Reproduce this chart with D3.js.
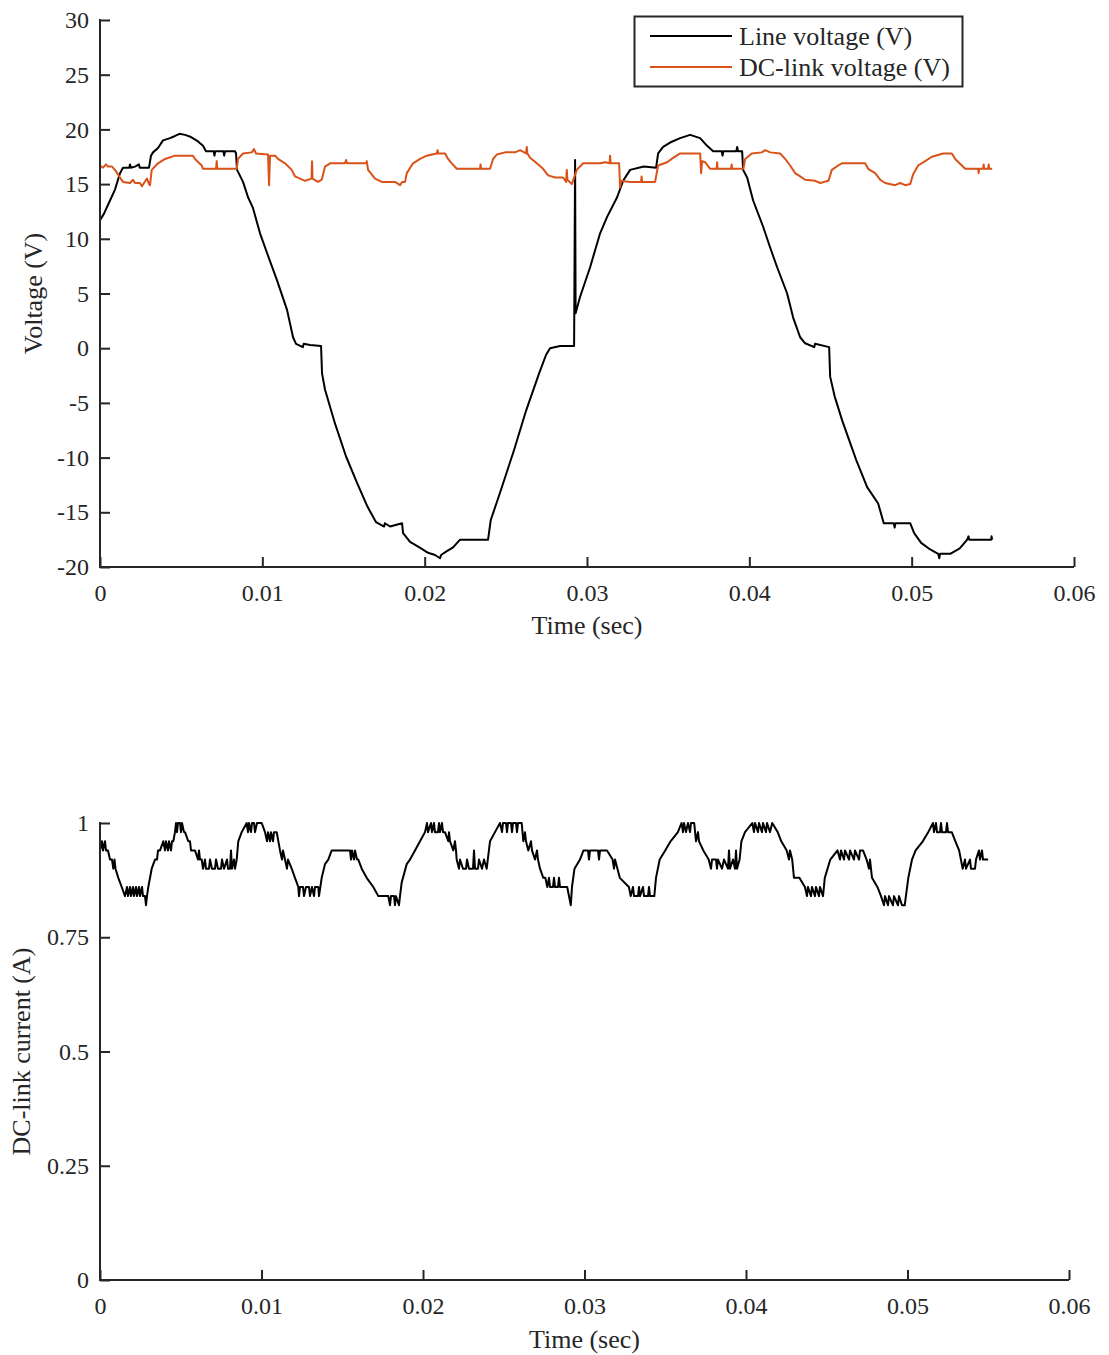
<!DOCTYPE html>
<html>
<head>
<meta charset="utf-8">
<script src="https://cdn.jsdelivr.net/npm/d3@7"></script>
<style>
  body { margin: 0; background: #fff; }
  text { font-family: "Liberation Serif", "Times New Roman", serif; fill: #262626; }
</style>
</head>
<body>
<div id="chart"></div>
<script>
// Data (time in ms)
var lineVoltage = [
  [0, 11.7], [0.246, 12.3], [0.616, 13.5], [0.924, 14.5], [1.232, 16.0], [1.417, 16.5], [1.8, 16.5], [1.85, 16.8],
  [1.9, 16.5], [2.157, 16.6], [2.4, 16.8], [2.45, 16.5], [3.019, 16.5], [3.142, 17.6], [3.266, 17.9], [3.574, 18.3],
  [3.882, 19.0], [4.313, 19.2], [4.621, 19.4], [4.9, 19.6], [5.237, 19.5], [5.607, 19.3], [6.038, 18.9], [6.346, 18.5],
  [6.531, 18.0], [7.0, 18.0], [7.05, 17.6], [7.1, 18.0], [7.6, 18.0], [7.65, 17.6], [7.7, 18.0], [8.318, 18.0],
  [8.380, 17.8], [8.441, 16.3], [8.811, 15.2], [9.119, 13.8], [9.427, 12.8], [9.858, 10.5], [10.290, 8.7], [10.906, 6.2],
  [11.522, 3.5], [11.891, 1.0], [12.076, 0.4], [12.5, 0.1], [12.55, 0.4], [12.939, 0.3], [13.617, 0.2], [13.678, -2.3],
  [13.863, -3.8], [14.479, -6.9], [15.157, -9.9], [15.835, -12.3], [16.482, -14.5], [17.006, -15.9], [17.5, -16.3],
  [17.55, -16.0], [17.868, -16.3], [18.607, -16.0], [18.669, -16.9], [19.100, -17.7], [19.778, -18.3], [20.210, -18.7],
  [20.641, -18.9], [20.949, -19.2], [21.011, -18.9], [21.319, -18.6], [21.750, -18.2], [22.181, -17.5], [23.906, -17.5],
  [24.073, -15.7], [24.621, -13.3], [25.508, -9.3], [26.248, -5.7], [27.049, -2.3], [27.480, -0.6], [27.726, 0.0],
  [28.343, 0.2], [29.205, 0.2], [29.267, 17.2], [29.298, 3.2], [29.575, 4.7], [30.191, 7.4], [30.807, 10.5],
  [31.238, 12.0], [31.855, 13.8], [32.224, 15.3], [32.656, 16.3], [33.5, 16.6], [34.258, 16.5], [34.381, 17.8],
  [34.689, 18.4], [35.120, 18.8], [35.736, 19.2], [36.353, 19.5], [36.969, 19.2], [37.400, 18.5], [37.770, 18.0],
  [38.3, 18.0], [38.35, 17.6], [38.4, 18.0], [39.2, 18.0], [39.25, 18.4], [39.3, 18.0], [39.556, 18.0], [39.618, 16.3],
  [39.864, 15.6], [40.234, 13.5], [40.850, 11.1], [41.282, 9.2], [41.713, 7.4], [42.329, 5.0], [42.699, 2.8],
  [43.130, 1.0], [43.438, 0.45], [44.0, 0.1], [44.05, 0.4], [44.917, 0.1], [44.978, -2.6], [45.256, -4.4],
  [45.718, -6.6], [46.149, -8.4], [46.580, -10.2], [47.258, -12.7], [47.936, -14.2], [48.281, -16.0], [48.9, -16.0],
  [48.95, -16.4], [49.0, -16.0], [49.908, -16.0], [50.154, -16.9], [50.585, -17.8], [51.140, -18.4], [51.633, -18.8],
  [51.7, -19.2], [51.75, -18.8], [52.372, -18.8], [52.964, -18.3], [53.420, -17.5], [53.5, -17.2], [53.55, -17.5],
  [54.9, -17.5], [54.92, -17.2], [54.960, -17.5]
];

var dcVoltage = [
  [0, 16.7], [0.185, 16.5], [0.370, 16.8], [0.493, 16.6], [0.739, 16.6], [0.924, 16.3], [1.232, 15.6], [1.417, 15.2],
  [1.848, 15.1], [2.033, 15.4], [2.157, 15.1], [2.465, 15.1], [2.588, 14.8], [2.711, 15.1], [2.896, 15.5], [3.019, 15.0],
  [3.081, 14.9], [3.185, 16.3], [3.574, 16.9], [4.005, 17.3], [4.621, 17.6], [5.730, 17.6], [5.853, 17.3], [6.266, 16.7],
  [6.346, 16.4], [7.147, 16.4], [7.190, 17.1], [7.227, 16.4], [8.423, 16.4], [8.503, 17.3], [8.811, 17.8], [9.347, 17.9],
  [9.489, 18.2], [9.612, 17.8], [10.351, 17.7], [10.413, 14.9], [10.475, 17.6], [10.783, 17.6], [10.967, 17.3],
  [11.399, 16.9], [11.811, 16.3], [12.015, 15.7], [12.323, 15.5], [12.631, 15.3], [13.031, 15.5], [13.062, 17.1],
  [13.093, 15.5], [13.432, 15.2], [13.660, 15.4], [13.863, 16.6], [14.171, 16.9], [15.095, 16.9], [15.157, 17.2],
  [15.219, 16.9], [16.124, 16.9], [16.420, 16.9], [16.433, 17.1], [16.513, 16.3], [16.944, 15.5], [17.357, 15.2],
  [18.176, 15.2], [18.484, 14.9], [18.607, 15.2], [18.792, 15.2], [18.897, 16.0], [19.285, 16.9], [19.717, 17.3],
  [20.129, 17.6], [20.746, 17.8], [20.795, 18.1], [20.826, 17.8], [21.257, 17.8], [21.442, 17.3], [21.670, 16.9],
  [21.978, 16.4], [23.413, 16.4], [23.444, 16.8], [23.475, 16.4], [24.030, 16.4], [24.214, 17.3], [24.442, 17.7],
  [24.954, 17.9], [25.570, 17.9], [25.878, 18.1], [26.248, 17.8], [26.291, 18.4], [26.328, 17.8], [26.494, 17.4],
  [26.907, 16.9], [27.295, 16.4], [27.603, 15.8], [28.035, 15.6], [28.527, 15.6], [28.712, 15.2], [28.755, 16.3],
  [28.792, 15.4], [29.063, 15.0], [29.371, 16.3], [29.760, 16.9], [30.807, 16.9], [31.115, 17.0], [31.392, 16.9],
  [31.423, 17.6], [31.454, 16.9], [31.978, 16.9], [32.039, 14.7], [32.101, 15.3], [32.656, 15.2], [33.333, 15.2],
  [33.364, 15.7], [33.395, 15.2], [34.196, 15.2], [34.381, 16.7], [34.935, 17.0], [35.305, 17.4], [35.736, 17.8],
  [36.353, 17.8], [36.969, 17.8], [37.030, 16.0], [37.092, 17.1], [37.277, 17.0], [37.585, 16.4], [37.985, 16.4],
  [38.016, 17.0], [38.047, 16.4], [38.878, 16.4], [38.909, 16.8], [38.940, 16.4], [39.636, 16.4], [39.741, 17.3],
  [40.154, 17.8], [40.770, 17.9], [40.973, 18.1], [41.282, 17.9], [41.898, 17.8], [42.206, 17.3], [42.514, 16.7],
  [42.822, 16.0], [43.130, 15.7], [43.438, 15.4], [44.054, 15.3], [44.362, 15.1], [44.874, 15.3], [45.083, 16.3],
  [45.471, 16.7], [45.699, 16.9], [47.135, 16.9], [47.320, 16.4], [47.751, 16.0], [48.059, 15.4], [48.367, 15.1],
  [48.983, 14.9], [49.291, 15.1], [49.599, 14.9], [49.908, 15.0], [50.092, 15.9], [50.400, 16.7], [50.832, 17.1],
  [51.245, 17.5], [51.941, 17.8], [52.477, 17.8], [52.680, 17.3], [53.092, 16.7], [53.296, 16.4], [54.097, 16.4],
  [54.128, 16.0], [54.159, 16.4], [54.405, 16.4], [54.436, 16.8], [54.467, 16.4], [54.713, 16.4], [54.744, 16.8],
  [54.775, 16.4], [54.960, 16.4]
];

var dcCurrent = [
  [0, 0.94], [0.124, 0.96], [0.186, 0.94], [0.310, 0.96], [0.372, 0.94], [0.495, 0.94], [0.619, 0.92], [0.743, 0.92],
  [0.824, 0.90], [0.898, 0.92], [0.960, 0.90], [1.133, 0.88], [1.344, 0.86], [1.548, 0.84], [1.672, 0.86], [1.734, 0.84],
  [1.858, 0.86], [1.920, 0.84], [2.043, 0.86], [2.105, 0.84], [2.229, 0.86], [2.291, 0.84], [2.415, 0.86], [2.477, 0.84],
  [2.601, 0.86], [2.663, 0.84], [2.786, 0.84], [2.848, 0.82], [2.910, 0.84], [2.991, 0.86], [3.201, 0.90], [3.406, 0.92],
  [3.530, 0.92], [3.591, 0.94], [3.715, 0.94], [3.920, 0.96], [4.025, 0.94], [4.087, 0.96], [4.211, 0.94], [4.272, 0.96],
  [4.396, 0.94], [4.458, 0.96], [4.539, 0.96], [4.644, 0.98], [4.706, 1.0], [4.768, 0.98], [4.830, 1.0], [4.954, 1.0],
  [5.015, 0.98], [5.077, 1.0], [5.201, 0.98], [5.263, 0.98], [5.467, 0.96], [5.573, 0.96], [5.635, 0.94], [5.882, 0.94],
  [6.068, 0.92], [6.130, 0.94], [6.192, 0.92], [6.297, 0.92], [6.378, 0.90], [6.502, 0.92], [6.563, 0.90], [6.749, 0.90],
  [6.811, 0.92], [6.935, 0.90], [7.121, 0.90], [7.183, 0.92], [7.307, 0.90], [7.492, 0.90], [7.554, 0.92], [7.678, 0.90],
  [7.864, 0.92], [7.926, 0.90], [8.050, 0.90], [8.111, 0.94], [8.173, 0.90], [8.297, 0.92], [8.359, 0.90], [8.464, 0.92],
  [8.563, 0.96], [8.774, 0.98], [9.083, 1.0], [9.164, 0.98], [9.226, 1.0], [9.350, 0.98], [9.412, 1.0], [9.536, 1.0],
  [9.598, 0.98], [9.721, 1.0], [9.845, 1.0], [10.012, 1.0], [10.217, 0.98], [10.341, 0.96], [10.402, 0.98],
  [10.526, 0.96], [10.588, 0.98], [10.712, 0.96], [10.774, 0.98], [10.941, 0.98], [11.146, 0.94], [11.269, 0.92],
  [11.331, 0.94], [11.455, 0.92], [11.579, 0.90], [11.641, 0.92], [11.870, 0.90], [12.074, 0.88], [12.279, 0.86],
  [12.322, 0.84], [12.384, 0.86], [12.570, 0.86], [12.632, 0.84], [12.755, 0.86], [12.941, 0.86], [13.003, 0.84],
  [13.127, 0.86], [13.251, 0.84], [13.313, 0.86], [13.517, 0.86], [13.560, 0.84], [13.727, 0.88], [13.932, 0.91],
  [14.136, 0.92], [14.347, 0.94], [15.480, 0.94], [15.542, 0.92], [15.604, 0.94], [15.728, 0.92], [15.790, 0.94],
  [15.913, 0.92], [15.994, 0.92], [16.204, 0.90], [16.514, 0.88], [16.923, 0.86], [17.232, 0.84], [17.851, 0.84],
  [17.957, 0.82], [18.019, 0.84], [18.204, 0.84], [18.266, 0.82], [18.328, 0.84], [18.514, 0.82], [18.576, 0.84],
  [18.681, 0.87], [18.991, 0.91], [19.195, 0.92], [19.505, 0.94], [19.814, 0.96], [20.124, 0.98], [20.248, 1.0],
  [20.310, 0.98], [20.495, 1.0], [20.557, 0.98], [20.681, 1.0], [20.743, 0.98], [20.929, 0.98], [20.991, 1.0],
  [21.053, 0.98], [21.176, 1.0], [21.238, 0.98], [21.362, 0.98], [21.567, 0.96], [21.610, 0.98], [21.672, 0.96],
  [21.876, 0.94], [21.981, 0.96], [22.043, 0.94], [22.086, 0.92], [22.229, 0.90], [22.291, 0.92], [22.477, 0.90],
  [22.663, 0.90], [22.724, 0.92], [22.848, 0.90], [23.096, 0.90], [23.158, 0.94], [23.220, 0.90], [23.406, 0.90],
  [23.467, 0.92], [23.653, 0.90], [23.777, 0.92], [23.944, 0.90], [24.149, 0.96], [24.458, 0.98], [24.768, 1.0],
  [24.892, 0.98], [24.954, 1.0], [25.139, 1.0], [25.201, 0.98], [25.263, 1.0], [25.449, 1.0], [25.511, 0.98],
  [25.573, 1.0], [25.759, 1.0], [25.820, 0.98], [25.882, 1.0], [26.111, 1.0], [26.211, 0.96], [26.316, 0.98],
  [26.378, 0.96], [26.520, 0.94], [26.687, 0.96], [26.749, 0.94], [26.935, 0.92], [27.059, 0.94], [27.121, 0.92],
  [27.245, 0.90], [27.449, 0.88], [27.579, 0.88], [27.697, 0.86], [27.802, 0.88], [27.864, 0.86], [28.050, 0.86],
  [28.111, 0.88], [28.173, 0.86], [28.359, 0.86], [28.421, 0.88], [28.483, 0.86], [28.669, 0.86], [28.929, 0.86],
  [29.152, 0.82], [29.226, 0.86], [29.381, 0.90], [29.721, 0.92], [29.938, 0.94], [30.217, 0.94], [30.279, 0.92],
  [30.341, 0.94], [30.836, 0.94], [30.898, 0.92], [30.960, 0.94], [31.393, 0.94], [31.740, 0.92], [31.827, 0.90],
  [31.889, 0.92], [32.186, 0.88], [32.749, 0.86], [32.861, 0.84], [33.003, 0.86], [33.065, 0.84], [33.313, 0.84],
  [33.375, 0.86], [33.437, 0.84], [33.622, 0.86], [33.684, 0.84], [33.932, 0.84], [33.994, 0.86], [34.056, 0.84],
  [34.322, 0.84], [34.427, 0.88], [34.656, 0.92], [34.997, 0.94], [35.331, 0.96], [35.783, 0.98], [36.006, 1.0],
  [36.099, 0.98], [36.161, 1.0], [36.285, 0.98], [36.409, 1.0], [36.533, 0.98], [36.594, 1.0], [36.793, 1.0],
  [36.904, 0.96], [37.028, 0.98], [37.090, 0.96], [37.356, 0.94], [37.690, 0.92], [37.833, 0.90], [37.895, 0.92],
  [38.142, 0.92], [38.204, 0.90], [38.266, 0.92], [38.514, 0.90], [38.638, 0.92], [38.885, 0.90], [38.947, 0.94],
  [39.009, 0.90], [39.195, 0.92], [39.319, 0.90], [39.381, 0.94], [39.443, 0.90], [39.604, 0.92], [39.715, 0.96],
  [39.938, 0.98], [40.390, 1.0], [40.495, 0.98], [40.557, 1.0], [40.743, 0.98], [40.805, 1.0], [40.991, 0.98],
  [41.053, 1.0], [41.238, 0.98], [41.300, 1.0], [41.486, 0.98], [41.622, 1.0], [41.963, 0.98], [42.186, 0.96],
  [42.520, 0.94], [42.663, 0.92], [42.724, 0.94], [42.861, 0.92], [42.972, 0.88], [43.307, 0.88], [43.647, 0.86],
  [43.777, 0.84], [43.839, 0.86], [44.025, 0.84], [44.087, 0.86], [44.272, 0.84], [44.334, 0.86], [44.520, 0.84],
  [44.582, 0.86], [44.768, 0.84], [44.879, 0.88], [45.220, 0.92], [45.666, 0.94], [45.820, 0.92], [45.882, 0.94],
  [46.068, 0.92], [46.130, 0.94], [46.378, 0.92], [46.440, 0.94], [46.687, 0.92], [46.749, 0.94], [46.997, 0.92],
  [47.059, 0.94], [47.245, 0.94], [47.467, 0.92], [47.616, 0.90], [47.678, 0.92], [47.802, 0.88], [48.136, 0.86],
  [48.359, 0.84], [48.545, 0.82], [48.607, 0.84], [48.793, 0.82], [48.854, 0.84], [49.102, 0.82], [49.164, 0.84],
  [49.412, 0.82], [49.474, 0.84], [49.659, 0.82], [49.827, 0.82], [50.050, 0.88], [50.279, 0.92], [50.502, 0.94],
  [50.947, 0.96], [51.282, 0.98], [51.579, 1.0], [51.641, 0.98], [51.765, 1.0], [51.827, 0.98], [52.012, 0.98],
  [52.074, 1.0], [52.136, 0.98], [52.384, 0.98], [52.446, 1.0], [52.508, 0.98], [52.743, 0.98], [52.966, 0.96],
  [53.195, 0.94], [53.418, 0.90], [53.560, 0.92], [53.622, 0.90], [53.870, 0.92], [53.932, 0.90], [54.180, 0.90],
  [54.241, 0.92], [54.427, 0.94], [54.489, 0.92], [54.613, 0.94], [54.675, 0.92], [54.799, 0.92], [54.991, 0.92]
];

var timeTicks = [0, 0.01, 0.02, 0.03, 0.04, 0.05, 0.06];
var voltTicks = [-20, -15, -10, -5, 0, 5, 10, 15, 20, 25, 30];
var currentTicks = [0, 0.25, 0.5, 0.75, 1];
var legendLabels = ["Line voltage (V)", "DC-link voltage (V)"];
var seriesColors = ["#000000", "#D95319"];

var svgWidth = 1109;
var svgHeight = 1355;
var axisColor = "#262626";

var svg = d3.select("#chart")
    .append("svg")
    .attr("width", svgWidth)
    .attr("height", svgHeight);

// draws an axis pair with inward ticks, MATLAB-like
function drawAxes(x, y, xTicks, yTicks, yFormat, yLabel, yLabelX, xLabelY) {
    var g = svg.append("g");
    var x0 = x.range()[0], x1 = x.range()[1];
    var y0 = y.range()[0], y1 = y.range()[1];

    var xAxis = g.append("g")
        .attr("transform", `translate(0, ${y0})`)
        .call(d3.axisBottom(x).tickValues(xTicks).tickSize(-10).tickPadding(17)
            .tickFormat(d => d === 0 ? "0" : d3.format(".2f")(d)));
    var yAxis = g.append("g")
        .attr("transform", `translate(${x0}, 0)`)
        .call(d3.axisLeft(y).tickValues(yTicks).tickSize(-10).tickPadding(11).tickFormat(yFormat));

    [xAxis, yAxis].forEach(function(a) {
        a.select(".domain").remove();
        a.selectAll(".tick line").attr("stroke", axisColor).attr("stroke-width", 2);
        a.selectAll(".tick text")
            .attr("font-family", "Liberation Serif, serif")
            .attr("font-size", 24)
            .attr("fill", axisColor);
    });

    // axis lines (left and bottom only)
    g.append("path")
        .attr("d", `M${x0},${y1 - 1}V${y0}H${x1}`)
        .attr("fill", "none")
        .attr("stroke", axisColor)
        .attr("stroke-width", 2);

    g.append("text")
        .attr("x", (x0 + x1) / 2)
        .attr("y", xLabelY)
        .attr("text-anchor", "middle")
        .attr("font-size", 26)
        .text("Time (sec)");

    g.append("text")
        .attr("transform", `translate(${yLabelX}, ${(y0 + y1) / 2}) rotate(-90)`)
        .attr("text-anchor", "middle")
        .attr("font-size", 26)
        .text(yLabel);
}

// ---- top chart: voltages ----
var xTop = d3.scaleLinear().domain([0, 0.06]).range([100, 1074]);
var yTop = d3.scaleLinear().domain([-20, 30]).range([567, 20]);

var lineTop = d3.line()
    .x(d => xTop(d[0] / 1000))
    .y(d => yTop(d[1]));

svg.append("path")
    .datum(lineVoltage)
    .attr("d", lineTop)
    .attr("fill", "none")
    .attr("stroke", seriesColors[0])
    .attr("stroke-width", 2)
    .attr("stroke-linejoin", "round");

svg.append("path")
    .datum(dcVoltage)
    .attr("d", lineTop)
    .attr("fill", "none")
    .attr("stroke", seriesColors[1])
    .attr("stroke-width", 2)
    .attr("stroke-linejoin", "round");

drawAxes(xTop, yTop, timeTicks, voltTicks, d => String(d), "Voltage (V)", 42, 634);

// legend
var legend = svg.append("g");
legend.append("rect")
    .attr("x", 634.5)
    .attr("y", 16.5)
    .attr("width", 328)
    .attr("height", 70)
    .attr("fill", "#fff")
    .attr("stroke", axisColor)
    .attr("stroke-width", 2);

legendLabels.forEach(function(label, i) {
    var ly = 36 + i * 31;
    legend.append("line")
        .attr("x1", 650)
        .attr("x2", 732)
        .attr("y1", ly)
        .attr("y2", ly)
        .attr("stroke", seriesColors[i])
        .attr("stroke-width", 2);
    legend.append("text")
        .attr("x", 739)
        .attr("y", ly + 9)
        .attr("font-size", 26)
        .attr("fill", "#000")
        .text(label);
});

// ---- bottom chart: DC-link current ----
var xBot = d3.scaleLinear().domain([0, 0.06]).range([100, 1069]);
var yBot = d3.scaleLinear().domain([0, 1]).range([1280, 823]);

var lineBot = d3.line()
    .x(d => xBot(d[0] / 1000))
    .y(d => yBot(d[1]));

svg.append("path")
    .datum(dcCurrent)
    .attr("d", lineBot)
    .attr("fill", "none")
    .attr("stroke", "#000")
    .attr("stroke-width", 2)
    .attr("stroke-linejoin", "round");

drawAxes(xBot, yBot, timeTicks, currentTicks, d => String(d),
    "DC-link current (A)", 30, 1348);
</script>
</body>
</html>
